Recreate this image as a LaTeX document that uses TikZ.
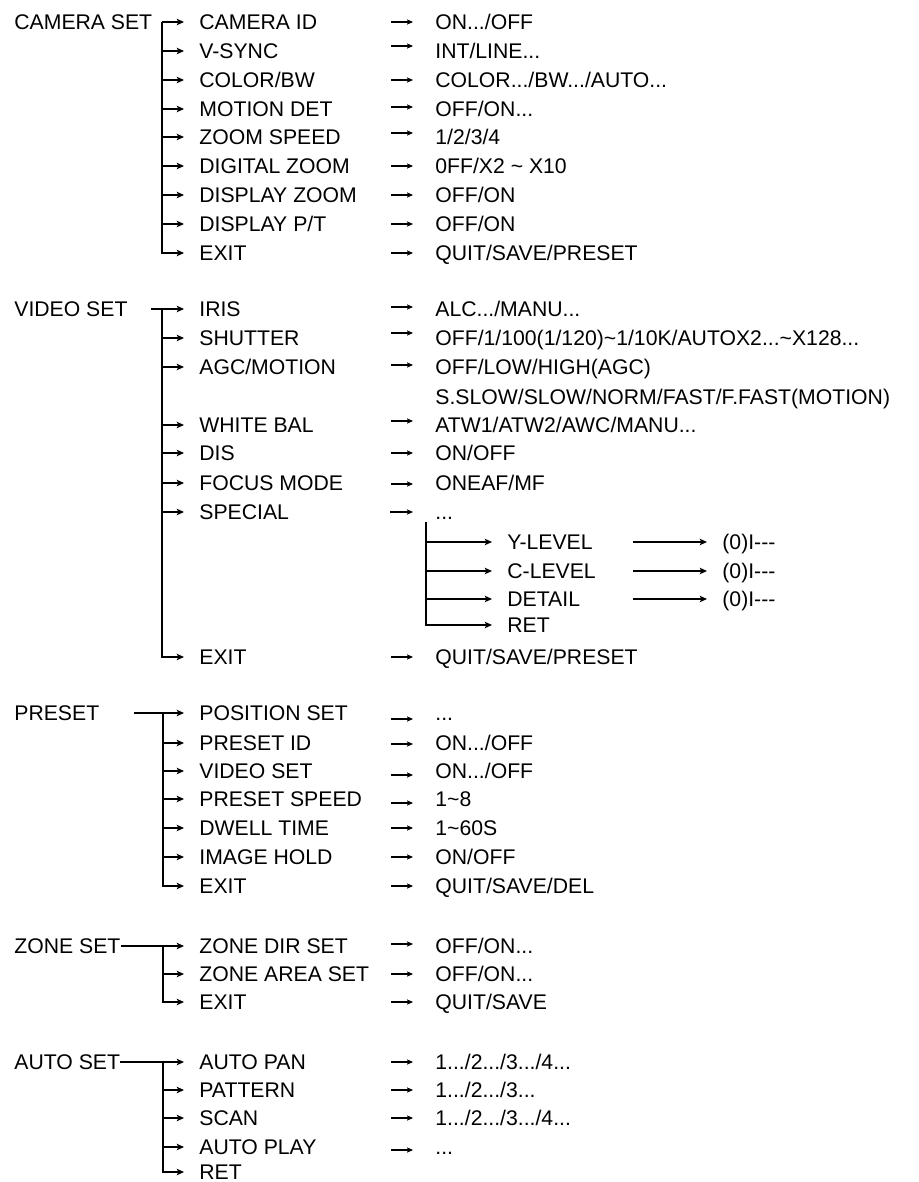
\documentclass[tikz,border=0pt]{standalone}
\usepackage{fontspec}
\setmainfont{Liberation Sans}
\usetikzlibrary{arrows.meta}

\begin{document}
\begin{tikzpicture}[x=0.5pt, y=-0.5pt,
    every node/.style={anchor=west, inner sep=0pt, text height=7.6pt, text depth=0pt, font=\fontsize{10.6}{12}\selectfont},
    branch/.style={-{Stealth[length=3.6pt, width=3.2pt, inset=0.8pt]}, line width=0.65pt, shorten >=7.5pt},
    pick/.style={-{Stealth[length=3pt, width=2.6pt, inset=0.6pt]}, line width=0.55pt}]
    \useasboundingbox (0,0) rectangle (918,1182);

    % camera set
    \node (camset) at (14,22) {CAMERA SET};
    \node (cid) at (199,22) {CAMERA ID};
    \node (vsync) at (199,51) {V-SYNC};
    \node (colbw) at (199,80) {COLOR/BW};
    \node (motdet) at (199,109) {MOTION DET};
    \node (zspeed) at (199,137) {ZOOM SPEED};
    \node (dzoom) at (199,166) {DIGITAL ZOOM};
    \node (dispzoom) at (199,195) {DISPLAY ZOOM};
    \node (disppt) at (199,224) {DISPLAY P/T};
    \node (camexit) at (199,253) {EXIT};
    \node (cidv) at (435,22) {ON.../OFF};
    \node (vsyncv) at (435,51) {INT/LINE...};
    \node (colbwv) at (435,80) {COLOR.../BW.../AUTO...};
    \node (motdetv) at (435,109) {OFF/ON...};
    \node (zspeedv) at (435,137) {1/2/3/4};
    \node (dzoomv) at (435,166) {0FF/X2 \textasciitilde{} X10};
    \node (dispzoomv) at (435,195) {OFF/ON};
    \node (dispptv) at (435,224) {OFF/ON};
    \node (camexitv) at (435,253) {QUIT/SAVE/PRESET};
    \coordinate (camtrunk) at (162,22);
    \draw[branch] (camtrunk) -- (cid.west);
    \draw[branch] (camtrunk) |- (camexit.west);
    \draw[branch] (camtrunk |- vsync.west) -- (vsync.west);
    \draw[branch] (camtrunk |- colbw.west) -- (colbw.west);
    \draw[branch] (camtrunk |- motdet.west) -- (motdet.west);
    \draw[branch] (camtrunk |- zspeed.west) -- (zspeed.west);
    \draw[branch] (camtrunk |- dzoom.west) -- (dzoom.west);
    \draw[branch] (camtrunk |- dispzoom.west) -- (dispzoom.west);
    \draw[branch] (camtrunk |- disppt.west) -- (disppt.west);
    \draw[pick] ([xshift=-22pt]cidv.west) -- ([xshift=-11pt]cidv.west);
    \draw[pick] ([xshift=-22pt,yshift=2.5pt]vsyncv.west) -- ([xshift=-11pt,yshift=2.5pt]vsyncv.west);
    \draw[pick] ([xshift=-22pt]colbwv.west) -- ([xshift=-11pt]colbwv.west);
    \draw[pick] ([xshift=-22pt,yshift=1pt]motdetv.west) -- ([xshift=-11pt,yshift=1pt]motdetv.west);
    \draw[pick] ([xshift=-22pt,yshift=2pt]zspeedv.west) -- ([xshift=-11pt,yshift=2pt]zspeedv.west);
    \draw[pick] ([xshift=-22pt]dzoomv.west) -- ([xshift=-11pt]dzoomv.west);
    \draw[pick] ([xshift=-22pt]dispzoomv.west) -- ([xshift=-11pt]dispzoomv.west);
    \draw[pick] ([xshift=-22pt]dispptv.west) -- ([xshift=-11pt]dispptv.west);
    \draw[pick] ([xshift=-22pt]camexitv.west) -- ([xshift=-11pt]camexitv.west);

    % video set
    \node (vidset) at (14,309) {VIDEO SET};
    \node (iris) at (199,309) {IRIS};
    \node (shutter) at (199,338) {SHUTTER};
    \node (agc) at (199,367) {AGC/MOTION};
    \node (wbal) at (199,425) {WHITE BAL};
    \node (dis) at (199,453) {DIS};
    \node (focus) at (199,483) {FOCUS MODE};
    \node (special) at (199,512) {SPECIAL};
    \node (videxit) at (199,657) {EXIT};
    \node (irisv) at (435,309) {ALC.../MANU...};
    \node (shutterv) at (435,338) {OFF/1/100(1/120)\textasciitilde1/10K/AUTOX2...\textasciitilde X128...};
    \node (agcv) at (435,367) {OFF/LOW/HIGH(AGC)};
    \node (agcmv) at (435,397) {S.SLOW/SLOW/NORM/FAST/F.FAST(MOTION)};
    \node (wbalv) at (435,425) {ATW1/ATW2/AWC/MANU...};
    \node (disv) at (435,453) {ON/OFF};
    \node (focusv) at (435,483) {ONEAF/MF};
    \node (specialv) at (435,512) {...};
    \node (videxitv) at (435,657) {QUIT/SAVE/PRESET};
    \coordinate (vidstart) at (151,309);
    \coordinate (vidtrunk) at (162,309);
    \draw[branch] (vidstart) -- (iris.west);
    \draw[branch] (vidtrunk) |- (videxit.west);
    \draw[branch] (vidtrunk |- shutter.west) -- (shutter.west);
    \draw[branch] (vidtrunk |- agc.west) -- (agc.west);
    \draw[branch] (vidtrunk |- wbal.west) -- (wbal.west);
    \draw[branch] (vidtrunk |- dis.west) -- (dis.west);
    \draw[branch] (vidtrunk |- focus.west) -- (focus.west);
    \draw[branch] (vidtrunk |- special.west) -- (special.west);
    \draw[pick] ([xshift=-22pt,yshift=1pt]irisv.west) -- ([xshift=-11pt,yshift=1pt]irisv.west);
    \draw[pick] ([xshift=-22pt,yshift=2.5pt]shutterv.west) -- ([xshift=-11pt,yshift=2.5pt]shutterv.west);
    \draw[pick] ([xshift=-22pt,yshift=1pt]agcv.west) -- ([xshift=-11pt,yshift=1pt]agcv.west);
    \draw[pick] ([xshift=-22pt,yshift=2pt]wbalv.west) -- ([xshift=-11pt,yshift=2pt]wbalv.west);
    \draw[pick] ([xshift=-22pt]disv.west) -- ([xshift=-11pt]disv.west);
    \draw[pick] ([xshift=-22pt,yshift=-0.5pt]focusv.west) -- ([xshift=-11pt,yshift=-0.5pt]focusv.west);
    \draw[pick] ([xshift=-22.5pt]specialv.west) -- ([xshift=-11pt]specialv.west);
    \draw[pick] ([xshift=-22pt]videxitv.west) -- ([xshift=-11pt]videxitv.west);

    % special sub menu
    \node (ylevel) at (507,542) {Y-LEVEL};
    \node (clevel) at (507,571) {C-LEVEL};
    \node (detail) at (507,599) {DETAIL};
    \node (specret) at (507,625) {RET};
    \node (ylevelv) at (722,542) {(0)I-{}-{}-};
    \node (clevelv) at (722,571) {(0)I-{}-{}-};
    \node (detailv) at (722,599) {(0)I-{}-{}-};
    \coordinate (spectrunk) at (426,522);
    \draw[branch] (spectrunk) |- (specret.west);
    \draw[branch] (spectrunk |- ylevel.west) -- (ylevel.west);
    \draw[branch] (spectrunk |- clevel.west) -- (clevel.west);
    \draw[branch] (spectrunk |- detail.west) -- (detail.west);
    \draw[branch] ([xshift=-44.5pt]ylevelv.west) -- (ylevelv.west);
    \draw[branch] ([xshift=-44.5pt]clevelv.west) -- (clevelv.west);
    \draw[branch] ([xshift=-44.5pt]detailv.west) -- (detailv.west);

    % preset
    \node (preset) at (14,713) {PRESET};
    \node (posset) at (199,713) {POSITION SET};
    \node (presetid) at (199,743) {PRESET ID};
    \node (presetvid) at (199,771) {VIDEO SET};
    \node (pspeed) at (199,799) {PRESET SPEED};
    \node (dwell) at (199,828) {DWELL TIME};
    \node (hold) at (199,857) {IMAGE HOLD};
    \node (presetexit) at (199,886) {EXIT};
    \node (possetv) at (435,713) {...};
    \node (presetidv) at (435,743) {ON.../OFF};
    \node (presetvidv) at (435,771) {ON.../OFF};
    \node (pspeedv) at (435,799) {1\textasciitilde8};
    \node (dwellv) at (435,828) {1\textasciitilde60S};
    \node (holdv) at (435,857) {ON/OFF};
    \node (presetexitv) at (435,886) {QUIT/SAVE/DEL};
    \coordinate (presetstart) at (134,713);
    \coordinate (presettrunk) at (163,713);
    \draw[branch] (presetstart) -- (posset.west);
    \draw[branch] (presettrunk) |- (presetexit.west);
    \draw[branch] (presettrunk |- presetid.west) -- (presetid.west);
    \draw[branch] (presettrunk |- presetvid.west) -- (presetvid.west);
    \draw[branch] (presettrunk |- pspeed.west) -- (pspeed.west);
    \draw[branch] (presettrunk |- dwell.west) -- (dwell.west);
    \draw[branch] (presettrunk |- hold.west) -- (hold.west);
    \draw[pick] ([xshift=-22pt,yshift=-3pt]possetv.west) -- ([xshift=-11pt,yshift=-3pt]possetv.west);
    \draw[pick] ([xshift=-22pt,yshift=-0.5pt]presetidv.west) -- ([xshift=-11pt,yshift=-0.5pt]presetidv.west);
    \draw[pick] ([xshift=-22pt,yshift=-2pt]presetvidv.west) -- ([xshift=-11pt,yshift=-2pt]presetvidv.west);
    \draw[pick] ([xshift=-22pt,yshift=-2pt]pspeedv.west) -- ([xshift=-11pt,yshift=-2pt]pspeedv.west);
    \draw[pick] ([xshift=-22pt]dwellv.west) -- ([xshift=-11pt]dwellv.west);
    \draw[pick] ([xshift=-22pt]holdv.west) -- ([xshift=-11pt]holdv.west);
    \draw[pick] ([xshift=-22pt]presetexitv.west) -- ([xshift=-11pt]presetexitv.west);

    % zone set
    \node (zoneset) at (14,946) {ZONE SET};
    \node (zonedir) at (199,946) {ZONE DIR SET};
    \node (zonearea) at (199,974) {ZONE AREA SET};
    \node (zoneexit) at (199,1002) {EXIT};
    \node (zonedirv) at (435,946) {OFF/ON...};
    \node (zoneareav) at (435,974) {OFF/ON...};
    \node (zoneexitv) at (435,1002) {QUIT/SAVE};
    \coordinate (zonetrunk) at (163,946);
    \draw[branch] (zoneset.east) -- (zonedir.west);
    \draw[branch] (zonetrunk) |- (zoneexit.west);
    \draw[branch] (zonetrunk |- zonearea.west) -- (zonearea.west);
    \draw[pick] ([xshift=-22pt,yshift=1pt]zonedirv.west) -- ([xshift=-11pt,yshift=1pt]zonedirv.west);
    \draw[pick] ([xshift=-22pt]zoneareav.west) -- ([xshift=-11pt]zoneareav.west);
    \draw[pick] ([xshift=-22pt]zoneexitv.west) -- ([xshift=-11pt]zoneexitv.west);

    % auto set
    \node (autoset) at (14,1062) {AUTO SET};
    \node (autopan) at (199,1062) {AUTO PAN};
    \node (pattern) at (199,1090) {PATTERN};
    \node (scan) at (199,1118) {SCAN};
    \node (autoplay) at (199,1147) {AUTO PLAY};
    \node (autoret) at (199,1172) {RET};
    \node (autopanv) at (435,1062) {1.../2.../3.../4...};
    \node (patternv) at (435,1090) {1.../2.../3...};
    \node (scanv) at (435,1118) {1.../2.../3.../4...};
    \node (autoplayv) at (435,1147) {...};
    \coordinate (autotrunk) at (163,1062);
    \draw[branch] (autoset.east) -- (autopan.west);
    \draw[branch] (autotrunk) |- (autoret.west);
    \draw[branch] (autotrunk |- pattern.west) -- (pattern.west);
    \draw[branch] (autotrunk |- scan.west) -- (scan.west);
    \draw[branch] (autotrunk |- autoplay.west) -- (autoplay.west);
    \draw[pick] ([xshift=-22pt]autopanv.west) -- ([xshift=-11pt]autopanv.west);
    \draw[pick] ([xshift=-22pt]patternv.west) -- ([xshift=-11pt]patternv.west);
    \draw[pick] ([xshift=-22pt]scanv.west) -- ([xshift=-11pt]scanv.west);
    \draw[pick] ([xshift=-22pt,yshift=-1.5pt]autoplayv.west) -- ([xshift=-11pt,yshift=-1.5pt]autoplayv.west);
\end{tikzpicture}
\end{document}
